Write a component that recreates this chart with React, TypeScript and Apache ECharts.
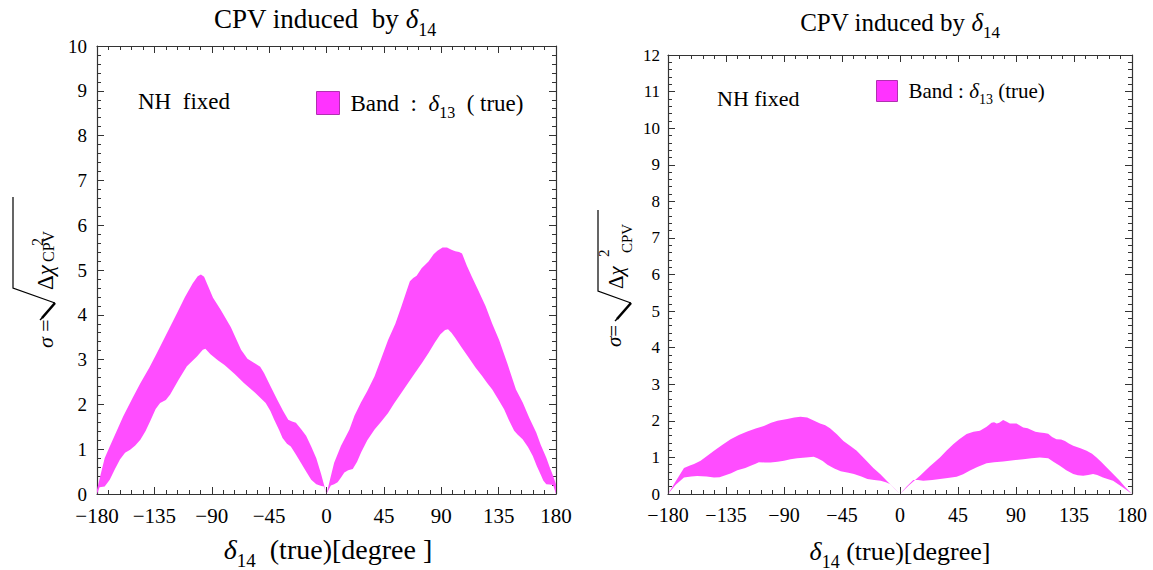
import React, { useEffect, useRef } from 'react';
import * as echarts from 'echarts';

// ---------- data ----------
const xTickValues = [-180, -135, -90, -45, 0, 45, 90, 135, 180];
const leftYMax = 10;
const rightYMax = 12;

// left panel: band upper / lower edges [delta14, sigma]
const leftUpper = [
  [-180, 0.1], [-177, 0.45], [-174, 0.8], [-170, 1.06], [-165, 1.38], [-159.5, 1.73], [-152, 2.15],
  [-146, 2.47], [-139, 2.82], [-133, 3.15], [-125, 3.6], [-117, 4.05], [-111, 4.4], [-105, 4.7],
  [-101, 4.86], [-98.5, 4.9], [-96, 4.85], [-93, 4.65], [-89, 4.38], [-83, 4.11], [-75, 3.72],
  [-67, 3.22], [-62, 3.02], [-57, 2.93], [-52, 2.84], [-49, 2.7], [-44, 2.41], [-38.5, 2.1],
  [-34, 1.85], [-30, 1.66], [-27, 1.62], [-24, 1.59], [-20, 1.45], [-16, 1.3], [-12, 1.06],
  [-8, 0.8], [-4.3, 0.45], [0, 0],
  [3, 0.35], [6, 0.7], [11.3, 1.07], [18, 1.44], [22, 1.75], [27, 2.04], [32, 2.3], [37.7, 2.63],
  [43, 3.03], [48.3, 3.44], [54, 3.8], [58.8, 4.19], [63, 4.55], [65.4, 4.75], [68, 4.82],
  [70.7, 4.87], [74.6, 5.04], [80, 5.19], [84, 5.35], [87, 5.43], [91, 5.5], [94.5, 5.5],
  [98, 5.45], [101, 5.42], [104, 5.4], [106.3, 5.37], [110, 5.1], [114, 4.85], [119, 4.55],
  [124.8, 4.19], [130, 3.8], [135.4, 3.44], [142, 2.9], [148.6, 2.33], [153.9, 2.04], [159, 1.7],
  [164.5, 1.37], [168, 1.1], [172.4, 0.81], [175, 0.6], [177.7, 0.41], [180, 0.22],
];
const leftLower = [
  [-180, 0], [-178, 0.15], [-174, 0.17], [-170, 0.32], [-166, 0.55], [-162, 0.77], [-158, 0.92],
  [-154, 0.99], [-150, 1.08], [-146, 1.21], [-142, 1.4], [-138.4, 1.62], [-134, 1.9], [-130.5, 2.03],
  [-126, 2.1], [-122.6, 2.22], [-116, 2.55], [-109.5, 2.85], [-101.6, 3.07], [-97, 3.22], [-95, 3.24],
  [-91, 3.12], [-85, 2.98], [-80, 2.88], [-72, 2.68], [-64.8, 2.48], [-56, 2.26], [-47.7, 2.03],
  [-44, 1.85], [-41, 1.66], [-37, 1.42], [-34.5, 1.25], [-31, 1.12], [-28, 1.06], [-24, 0.88],
  [-20, 0.69], [-16, 0.5], [-12, 0.32], [-8, 0.22], [-4, 0.18], [-2, 0.17], [0, 0],
  [3.4, 0.19], [6, 0.22], [8.7, 0.26], [11, 0.35], [14, 0.48], [17, 0.53], [20.6, 0.56], [24, 0.72],
  [27.2, 0.93], [32, 1.2], [37.7, 1.44], [43, 1.62], [48.3, 1.81], [53, 2.02], [58.8, 2.26],
  [64, 2.48], [69.4, 2.7], [75, 2.93], [80, 3.15], [85, 3.38], [89.2, 3.56], [93, 3.66],
  [95.3, 3.68], [98, 3.6], [101, 3.48], [106, 3.27], [111.6, 3.04], [117, 2.82], [122.2, 2.63],
  [126, 2.48], [130, 2.33], [135, 2.1], [139.3, 1.89], [143, 1.65], [147.2, 1.41], [150, 1.32],
  [153.8, 1.22], [158, 1.05], [161.8, 0.85], [165, 0.62], [168.4, 0.41], [170, 0.3], [172.4, 0.22],
  [175, 0.21], [177.7, 0.2], [180, 0],
];

// right panel
const rightUpper = [
  [-180, 0], [-174, 0.35], [-167.6, 0.71], [-163, 0.78], [-159.8, 0.82], [-154.7, 0.91], [-150, 1.03],
  [-144.3, 1.18], [-138, 1.34], [-131.4, 1.5], [-125, 1.61], [-118.5, 1.71], [-112, 1.79],
  [-105.6, 1.86], [-100, 1.95], [-95, 2.0], [-87.5, 2.05], [-82, 2.09], [-77.2, 2.11], [-72, 2.09],
  [-67, 2.01], [-62, 1.93], [-58, 1.88], [-54.3, 1.8], [-49, 1.63], [-43.9, 1.45], [-38, 1.3],
  [-33.6, 1.18], [-27, 0.94], [-20.7, 0.71], [-15, 0.53], [-10.3, 0.36], [-5, 0.18], [0, 0],
  [7, 0.24], [15.5, 0.5], [23, 0.75], [31, 1.0], [36, 1.18], [41.3, 1.36], [46, 1.5], [51.7, 1.64],
  [57, 1.7], [62, 1.73], [67.2, 1.84], [71, 1.95], [73, 1.96], [75, 1.93], [77, 1.95], [80, 2.02],
  [82, 1.99], [85.3, 1.93], [90.4, 1.93], [95.6, 1.82], [99, 1.8], [102, 1.75], [105, 1.7],
  [108.5, 1.68], [112, 1.67], [115, 1.65], [118, 1.56], [121.4, 1.5], [125, 1.49], [128, 1.45],
  [131, 1.38], [134.4, 1.32], [140, 1.25], [144.8, 1.18], [149, 1.1], [152.5, 1.0], [156, 0.88],
  [160.2, 0.73], [165, 0.56], [170.5, 0.36], [175, 0.18], [180, 0],
];
const rightLower = [
  [-180, 0], [-174, 0.25], [-167.6, 0.45], [-162, 0.48], [-157.4, 0.49], [-150, 0.48], [-144.3, 0.45],
  [-140, 0.46], [-136.6, 0.5], [-131, 0.57], [-126.2, 0.65], [-120, 0.71], [-115.9, 0.77],
  [-112, 0.83], [-109.5, 0.87], [-105, 0.86], [-100.4, 0.86], [-95, 0.88], [-90, 0.91], [-85, 0.95],
  [-79.8, 0.98], [-73, 1.0], [-67, 1.02], [-64, 0.98], [-60, 0.9], [-56.3, 0.8], [-51, 0.7],
  [-46, 0.62], [-40, 0.58], [-35.7, 0.55], [-30, 0.48], [-25.3, 0.41], [-20, 0.38], [-15, 0.36],
  [-11, 0.32], [-7.8, 0.27], [-4, 0.14], [0, 0],
  [5, 0.2], [10.3, 0.38], [14, 0.38], [18, 0.36], [25, 0.38], [31, 0.41], [37, 0.44], [43.9, 0.47],
  [49, 0.54], [54.3, 0.64], [60, 0.74], [67.2, 0.84], [73, 0.87], [80, 0.89], [88, 0.92], [95.6, 0.95],
  [102, 0.98], [108.5, 1.0], [115, 0.98], [119, 0.88], [124, 0.77], [129, 0.65], [134.4, 0.55],
  [138, 0.51], [142.1, 0.5], [146, 0.52], [149.8, 0.55], [153, 0.52], [157.5, 0.45], [161, 0.41],
  [165.3, 0.36], [169, 0.27], [173, 0.18], [176, 0.1], [180, 0],
];

// ---------- styling ----------
const FONT = '"Liberation Serif", "Times New Roman", serif';
const AX = '#333';
const BAND = '#ff4dff';

const fmtX = (v: number) => (v < 0 ? '\u2212' + Math.abs(v) : String(v));

function xAxisCfg(grid: number, pos: string, show: boolean, fs: number, margin: number) {
  return {
    type: 'value', gridIndex: grid, position: pos,
    min: xTickValues[0], max: xTickValues[xTickValues.length - 1], interval: 45,
    axisLine: { show: true, onZero: false, lineStyle: { color: AX, width: 1.2 } },
    axisTick: { show: true, inside: true, length: 7, lineStyle: { color: AX } },
    minorTick: { show: true, splitNumber: 5, length: 4, lineStyle: { color: AX } },
    splitLine: { show: false }, minorSplitLine: { show: false },
    axisLabel: { show, fontFamily: FONT, fontSize: fs, color: '#000', margin, formatter: fmtX },
  };
}
function yAxisCfg(grid: number, pos: string, show: boolean, max: number, fs: number, margin: number) {
  return {
    type: 'value', gridIndex: grid, position: pos, min: 0, max, interval: 1,
    axisLine: { show: true, onZero: false, lineStyle: { color: AX, width: 1.2 } },
    axisTick: { show: true, inside: true, length: 7, lineStyle: { color: AX } },
    minorTick: { show: true, splitNumber: 5, length: 4, lineStyle: { color: AX } },
    splitLine: { show: false }, minorSplitLine: { show: false },
    axisLabel: { show, fontFamily: FONT, fontSize: fs, color: '#000', margin, lineHeight: fs },
  };
}

function richStyles(f: number) {
  const s = Math.round(f * 0.68);
  return {
    n: { fontFamily: FONT, fontSize: f, lineHeight: f * 1.5, color: '#000' },
    i: { fontFamily: FONT, fontSize: f, fontStyle: 'italic', lineHeight: f * 1.5, color: '#000' },
    s: { fontFamily: FONT, fontSize: s, lineHeight: s * 1.2, verticalAlign: 'bottom', color: '#000' },
    p: { fontFamily: FONT, fontSize: s, lineHeight: s * 1.2, verticalAlign: 'top', color: '#000' },
    g: { fontFamily: FONT, fontSize: f, lineHeight: f * 1.5, color: '#000', padding: [0, 0, 0, 6] },
  };
}

function txt(x: number, y: number, text: string, f: number, align = 'center', rot = 0) {
  return {
    type: 'text', x, y, rotation: rot, silent: true,
    style: {
      text, rich: richStyles(f), fontFamily: FONT, fontSize: f, fill: '#000',
      align, verticalAlign: 'middle', textAlign: align, textVerticalAlign: 'middle',
    },
  };
}
function seg(points: number[][], w: number) {
  return { type: 'polyline', silent: true, shape: { points }, style: { stroke: '#000', lineWidth: w, fill: null } };
}

function bandSeries(upper: number[][], lower: number[][], axisIdx: number) {
  return {
    type: 'custom', name: 'Band', xAxisIndex: axisIdx, yAxisIndex: axisIdx, silent: true, clip: true,
    itemStyle: { color: BAND },
    data: [[0, 0]],
    renderItem: (_p: any, api: any) => {
      const pts = upper.map((d) => api.coord(d)).concat(lower.slice().reverse().map((d) => api.coord(d)));
      return { type: 'polygon', shape: { points: pts }, style: { fill: BAND } };
    },
  };
}

function legendCfg(left: number, top: number, size: number, f: number, label: string) {
  return {
    left, top, padding: 0, itemWidth: size, itemHeight: size, selectedMode: false,
    data: [{ name: 'Band', icon: 'rect', itemStyle: { color: '#ff33ff', borderColor: '#b030b0', borderWidth: 1 } }],
    formatter: () => label,
    textStyle: { fontFamily: FONT, fontSize: f, color: '#000', rich: richStyles(f) },
  };
}

const PI2 = Math.PI / 2;

export default function App() {
  const ref = useRef<HTMLDivElement>(null);
  useEffect(() => {
    if (!ref.current) return;
    const chart = echarts.init(ref.current, undefined, { renderer: 'svg' });
    const option: any = {
      animation: false,
      backgroundColor: '#fff',
      grid: [
        { left: 97, top: 46, width: 459, height: 448 },
        { left: 668, top: 55, width: 464, height: 439 },
      ],
      xAxis: [
        xAxisCfg(0, 'bottom', true, 21, 11),
        xAxisCfg(0, 'top', false, 21, 11),
        xAxisCfg(1, 'bottom', true, 20, 11),
        xAxisCfg(1, 'top', false, 20, 11),
      ],
      yAxis: [
        yAxisCfg(0, 'left', true, leftYMax, 19, 10),
        yAxisCfg(0, 'right', false, leftYMax, 19, 10),
        yAxisCfg(1, 'left', true, rightYMax, 17, 8),
        yAxisCfg(1, 'right', false, rightYMax, 17, 8),
      ],
      legend: [
        legendCfg(316, 91, 23, 23, '{g|Band  :  }{i|\u03b4}{s|13}{n|  ( true)}'),
        legendCfg(876, 80, 21, 21, '{g|Band : }{i|\u03b4}{s|13}{n| (true)}'),
      ],
      series: [bandSeries(leftUpper, leftLower, 0), bandSeries(rightUpper, rightLower, 2)],
      graphic: [
        // left panel texts
        txt(325, 19, '{n|CPV induced  by }{i|\u03b4}{s|14}', 27),
        txt(138, 101, '{n|NH  fixed}', 23, 'left'),
        txt(328, 549, '{i|\u03b4}{s|14}{n|  (true)[degree ]}', 28),
        // left y label
        txt(45, 348, '{i|\u03c3}{n| =}', 22, 'left', PI2),
        seg([[40, 320], [43, 317]], 1.5),
        seg([[42, 318], [55, 303]], 2.6),
        seg([[55, 303], [13, 288], [13, 197]], 1.2),
        txt(45, 290, '{n|\u0394}{i|\u03c7}', 23, 'left', PI2),
        txt(37, 246, '{n|2}', 16, 'left', PI2),
        txt(48, 262, '{n|CPV}', 16, 'left', PI2),
        // right panel texts
        txt(900, 22, '{n|CPV induced by }{i|\u03b4}{s|14}', 25),
        txt(717, 98, '{n|NH fixed}', 22, 'left'),
        txt(900, 551, '{i|\u03b4}{s|14}{n| (true)[degree]}', 26),
        // right y label
        txt(614, 347, '{i|\u03c3}{n|=}', 21, 'left', PI2),
        seg([[615, 321], [618, 318]], 1.5),
        seg([[617, 319], [631, 303]], 2.6),
        seg([[631, 303], [598, 291], [598, 210]], 1.2),
        txt(616, 289, '{n|\u0394}{i|\u03c7}', 21, 'left', PI2),
        txt(604, 257, '{n|2}', 15, 'left', PI2),
        txt(627, 253, '{n|CPV}', 15, 'left', PI2),
      ],
    };
    chart.setOption(option);
    return () => chart.dispose();
  }, []);
  return <div ref={ref} style={{ position: 'absolute', left: 0, top: 0, width: 1153, height: 570 }} />;
}
